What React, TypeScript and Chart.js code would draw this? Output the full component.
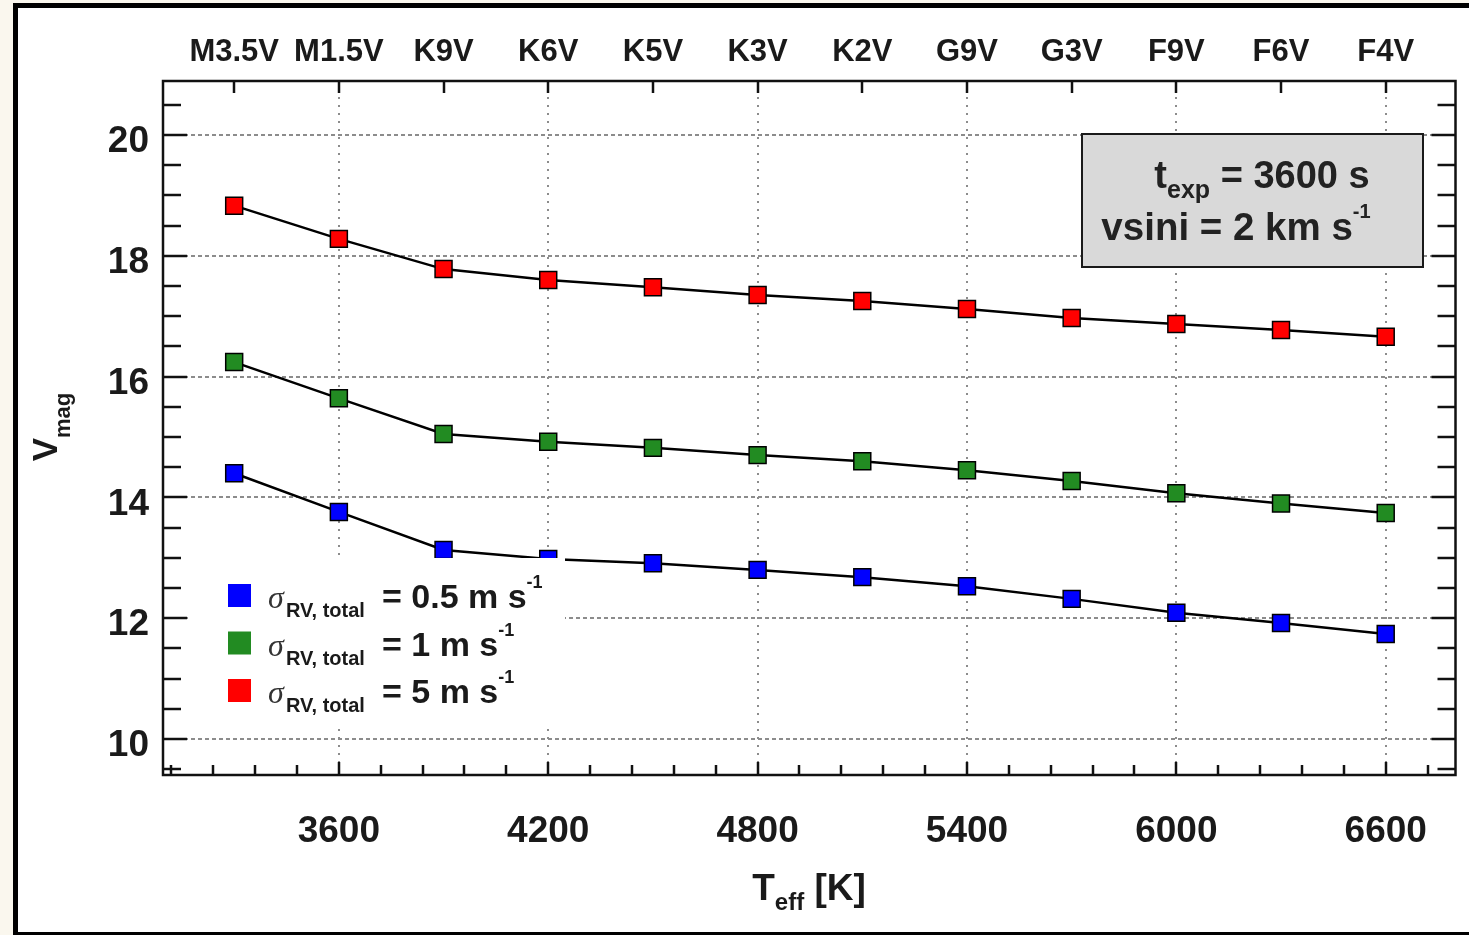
import React, { useEffect, useRef } from 'react';
import { Chart, registerables } from 'chart.js';

Chart.register(...registerables);

// ---- data ----
const temperatures = [3300, 3600, 3900, 4200, 4500, 4800, 5100, 5400, 5700, 6000, 6300, 6600];
const spectralTypes = ['M3.5V', 'M1.5V', 'K9V', 'K6V', 'K5V', 'K3V', 'K2V', 'G9V', 'G3V', 'F9V', 'F6V', 'F4V'];
const vmagSigma05 = [14.40, 13.76, 13.13, 12.98, 12.91, 12.80, 12.68, 12.53, 12.32, 12.09, 11.92, 11.74];
const vmagSigma1 = [16.24, 15.64, 15.05, 14.92, 14.82, 14.70, 14.60, 14.45, 14.27, 14.07, 13.90, 13.74];
const vmagSigma5 = [18.83, 18.28, 17.78, 17.60, 17.48, 17.35, 17.25, 17.12, 16.97, 16.87, 16.77, 16.66];
const teffTicks = [3600, 4200, 4800, 5400, 6000, 6600];
const vmagTicks = [10, 12, 14, 16, 18, 20];
const legendValues = ['0.5', '1', '5'];
const seriesColors = ['#0000ff', '#228b22', '#ff0000'];

const SANS = '"Liberation Sans", Arial, Helvetica, sans-serif';
const SERIF = '"Liberation Serif", "DejaVu Serif", serif';
const TEXT = '#1a1a1a';

type Run = { text: string; font: string; dy?: number; color?: string };

function runsWidth(ctx: CanvasRenderingContext2D, runs: Run[]) {
  let w = 0;
  for (const r of runs) {
    ctx.font = r.font;
    w += ctx.measureText(r.text).width;
  }
  return w;
}

function drawRuns(ctx: CanvasRenderingContext2D, runs: Run[], x: number, y: number, align: 'left' | 'center') {
  let cx = align === 'center' ? x - runsWidth(ctx, runs) / 2 : x;
  ctx.textAlign = 'left';
  ctx.textBaseline = 'alphabetic';
  for (const r of runs) {
    ctx.font = r.font;
    ctx.fillStyle = r.color || TEXT;
    ctx.fillText(r.text, cx, y + (r.dy || 0));
    cx += ctx.measureText(r.text).width;
  }
}

const decorPlugin = {
  id: 'decor',
  beforeDraw(chart: any) {
    const ctx = chart.ctx as CanvasRenderingContext2D;
    const { width, height } = chart;
    ctx.save();
    ctx.fillStyle = '#faf7ee';
    ctx.fillRect(0, 0, width, height);
    ctx.fillStyle = '#000';
    ctx.fillRect(13, 3, width - 13, height - 3);
    ctx.fillStyle = '#fff';
    ctx.fillRect(18, 8, width - 18, 932 - 8);
    ctx.restore();
  },
  beforeDatasetsDraw(chart: any) {
    const ctx = chart.ctx as CanvasRenderingContext2D;
    const { left, right, top, bottom } = chart.chartArea;
    const xs = chart.scales.x;
    const ys = chart.scales.y;
    ctx.save();
    // grid
    ctx.strokeStyle = '#8c8c8c';
    ctx.lineWidth = 2;
    ctx.setLineDash([4, 3]);
    for (const v of vmagTicks) {
      const y = Math.round(ys.getPixelForValue(v));
      ctx.beginPath();
      ctx.moveTo(left, y);
      ctx.lineTo(right, y);
      ctx.stroke();
    }
    ctx.setLineDash([2, 6]);
    for (const t of teffTicks) {
      const x = Math.round(xs.getPixelForValue(t));
      ctx.beginPath();
      ctx.moveTo(x, top);
      ctx.lineTo(x, bottom);
      ctx.stroke();
    }
    ctx.setLineDash([]);
    // ticks
    ctx.strokeStyle = '#111';
    ctx.lineWidth = 2.5;
    const tick = (x1: number, y1: number, x2: number, y2: number) => {
      ctx.beginPath();
      ctx.moveTo(x1, y1);
      ctx.lineTo(x2, y2);
      ctx.stroke();
    };
    for (let v = 9.5; v <= 20.51; v += 0.5) {
      const y = Math.round(ys.getPixelForValue(v));
      const major = Math.abs(v / 2 - Math.round(v / 2)) < 1e-6;
      const len = major ? 24 : 18;
      tick(left, y, left + len, y);
      tick(right, y, right - len, y);
    }
    for (let t = 3120; t <= 6800; t += 120) {
      const x = Math.round(xs.getPixelForValue(t));
      const major = t % 600 === 0;
      tick(x, bottom, x, bottom - (major ? 13 : 10));
    }
    for (const t of temperatures) {
      const x = Math.round(xs.getPixelForValue(t));
      tick(x, top, x, top + 12);
    }
    ctx.strokeRect(left, top, right - left, bottom - top);
    ctx.restore();
  },
  afterDatasetsDraw(chart: any) {
    const ctx = chart.ctx as CanvasRenderingContext2D;
    ctx.save();
    // legend
    ctx.fillStyle = '#fff';
    ctx.fillRect(190, 558, 565 - 190, 727 - 558);
    for (let i = 0; i < legendValues.length; i++) {
      const y0 = 584 + i * 47.5;
      ctx.fillStyle = seriesColors[i];
      ctx.fillRect(228, y0, 23, 23);
      const base = y0 + 24;
      drawRuns(ctx, [
        { text: 'σ', font: `italic 32px ${SERIF}`, color: '#333' },
      ], 268, base, 'left');
      drawRuns(ctx, [
        { text: 'RV, total', font: `bold 20px ${SANS}`, dy: 9 },
      ], 286, base, 'left');
      drawRuns(ctx, [
        { text: '= ' + legendValues[i] + ' m s', font: `bold 34px ${SANS}` },
        { text: '-1', font: `bold 18px ${SANS}`, dy: -20 },
      ], 382, base, 'left');
    }
    // annotation box
    ctx.fillStyle = '#d9d9d9';
    ctx.fillRect(1082, 134, 1423 - 1082, 267 - 134);
    ctx.strokeStyle = '#1a1a1a';
    ctx.lineWidth = 2;
    ctx.strokeRect(1082, 134, 1423 - 1082, 267 - 134);
    drawRuns(ctx, [
      { text: 't', font: `bold 38px ${SANS}`, color: '#222' },
      { text: 'exp', font: `bold 25px ${SANS}`, dy: 10, color: '#222' },
      { text: ' = 3600 s', font: `bold 38px ${SANS}`, color: '#222' },
    ], 1262, 188, 'center');
    drawRuns(ctx, [
      { text: 'vsini = 2 km s', font: `bold 38.5px ${SANS}`, color: '#222' },
      { text: '-1', font: `bold 20px ${SANS}`, dy: -22, color: '#222' },
    ], 1236, 240, 'center');
    // x title
    drawRuns(ctx, [
      { text: 'T', font: `bold 37px ${SANS}` },
      { text: 'eff', font: `bold 24px ${SANS}`, dy: 10 },
      { text: ' [K]', font: `bold 37px ${SANS}` },
    ], 809, 900, 'center');
    // y title
    ctx.translate(57, 427);
    ctx.rotate(-Math.PI / 2);
    drawRuns(ctx, [
      { text: 'V', font: `bold 35px ${SANS}` },
      { text: 'mag', font: `bold 22px ${SANS}`, dy: 13 },
    ], 0, 0, 'center');
    ctx.restore();
  },
};

export default function App() {
  const canvasRef = useRef<HTMLCanvasElement | null>(null);

  useEffect(() => {
    const canvas = canvasRef.current;
    if (!canvas) return;
    const mk = (vals: number[]) => temperatures.map((t, i) => ({ x: t, y: vals[i] }));
    const seriesList = [vmagSigma05, vmagSigma1, vmagSigma5];
    const datasets = seriesList.map((vals, i) => ({
      label: 'σ = ' + legendValues[i],
      data: mk(vals),
      showLine: true,
      borderColor: '#000',
      borderWidth: 2.5,
      backgroundColor: seriesColors[i],
      pointBackgroundColor: seriesColors[i],
      pointBorderColor: '#000',
      pointBorderWidth: 1.5,
      pointStyle: 'rect',
      pointRadius: 12,
      tension: 0,
    }));

    const tickFont = { family: SANS, size: 37, weight: 'bold' as const };
    const chart = new Chart(canvas, {
      type: 'scatter',
      data: { datasets },
      plugins: [decorPlugin],
      options: {
        responsive: false,
        devicePixelRatio: 1,
        animation: false,
        layout: { padding: { left: 0, right: 12, top: 0, bottom: 0 } },
        plugins: { legend: { display: false }, tooltip: { enabled: false } },
        scales: {
          x: {
            type: 'linear',
            position: 'bottom',
            min: 3096,
            max: 6800,
            afterBuildTicks: (s: any) => { s.ticks = teffTicks.map((v) => ({ value: v })); },
            afterFit: (s: any) => { s.height = 935 - 775; },
            grid: { display: false, drawTicks: false },
            border: { display: false },
            ticks: { font: tickFont, color: TEXT, padding: 35, maxRotation: 0, autoSkip: false, callback: (v: any) => String(v) },
          },
          x2: {
            type: 'linear',
            position: 'top',
            min: 3096,
            max: 6800,
            afterBuildTicks: (s: any) => { s.ticks = temperatures.map((v) => ({ value: v })); },
            afterFit: (s: any) => { s.height = 81; },
            grid: { display: false, drawTicks: false },
            border: { display: false },
            ticks: {
              font: { family: SANS, size: 31, weight: 'bold' },
              color: TEXT,
              padding: 10,
              maxRotation: 0,
              autoSkip: false,
              callback: (v: any) => spectralTypes[temperatures.indexOf(Number(v))] ?? '',
            },
          },
          y: {
            type: 'linear',
            position: 'left',
            min: 9.404,
            max: 20.894,
            afterBuildTicks: (s: any) => { s.ticks = vmagTicks.map((v) => ({ value: v })); },
            afterFit: (s: any) => { s.width = 163; },
            grid: { display: false, drawTicks: false },
            border: { display: false },
            ticks: { font: tickFont, color: TEXT, padding: 14, labelOffset: 7, callback: (v: any) => String(v) },
          },
        },
      },
    } as any);
    return () => chart.destroy();
  }, []);

  return (
    <div style={{ position: 'fixed', left: 0, top: 0, width: 1469, height: 935 }}>
      <canvas ref={canvasRef} width={1469} height={935} style={{ display: 'block' }} />
    </div>
  );
}
